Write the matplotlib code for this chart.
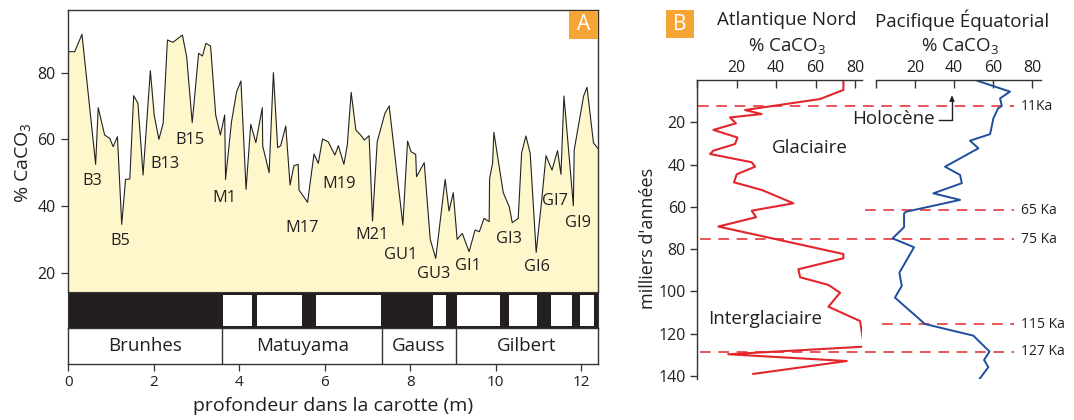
import matplotlib
matplotlib.use('Agg')
import matplotlib.pyplot as plt
from matplotlib.patches import Rectangle, FancyArrowPatch
from matplotlib.transforms import blended_transform_factory

plt.rcParams['font.family'] = ['Open Sans', 'DejaVu Sans']
plt.rcParams['mathtext.fontset'] = 'custom'
plt.rcParams['mathtext.rm'] = 'Open Sans'
plt.rcParams['mathtext.default'] = 'regular'

# ---- panel A : % CaCO3 vs depth in core
depth = [0, 0.15, 0.32, 0.64, 0.70, 0.85, 0.97, 1.05, 1.15, 1.25,
         1.34, 1.44, 1.53, 1.63, 1.75, 1.92, 2.01, 2.12, 2.22, 2.32,
         2.45, 2.67, 2.77, 2.90, 3.05, 3.14, 3.22, 3.33, 3.45, 3.56,
         3.66, 3.68, 3.82, 3.94, 4.04, 4.16, 4.27, 4.39, 4.54, 4.55,
         4.70, 4.80, 4.90, 4.97, 5.09, 5.19, 5.28, 5.38, 5.40, 5.60,
         5.75, 5.85, 5.95, 6.08, 6.24, 6.32, 6.45, 6.53, 6.62, 6.73,
         6.84, 6.93, 7.04, 7.12, 7.23, 7.41, 7.51, 7.83, 7.94, 8.02,
         8.13, 8.15, 8.33, 8.47, 8.60, 8.82, 8.91, 9.01, 9.10, 9.22,
         9.38, 9.52, 9.62, 9.73, 9.85, 9.86, 9.93, 9.96, 10.18, 10.32,
         10.39, 10.53, 10.61, 10.71, 10.81, 10.95, 11.08, 11.18, 11.32, 11.45,
         11.53, 11.60, 11.82, 11.84, 12.06, 12.14, 12.29, 12.39]
caco3 = [86.3, 86.3, 91.5, 52.5, 69.5, 61.3, 60.3, 57.8, 60.8, 34.5,
         48.0, 48.1, 73.1, 70.8, 49.3, 80.6, 67.3, 60.0, 64.8, 89.8,
         89.1, 91.3, 84.8, 65.0, 85.8, 85.0, 88.8, 88.0, 67.3, 61.3,
         67.3, 48.0, 65.3, 74.3, 77.5, 45.0, 64.5, 59.0, 69.5, 58.0,
         50.0, 80.0, 57.5, 58.1, 64.0, 46.3, 52.1, 52.5, 44.8, 41.1,
         55.6, 52.8, 60.1, 59.3, 55.3, 58.1, 52.5, 58.3, 74.1, 62.8,
         61.3, 59.8, 61.1, 35.5, 59.3, 67.8, 70.0, 34.3, 59.5, 56.3,
         55.5, 48.8, 53.0, 30.0, 24.3, 48.0, 38.5, 44.0, 30.0, 31.8,
         26.3, 32.8, 32.3, 36.3, 35.3, 48.3, 52.8, 62.1, 44.0, 39.8,
         35.0, 36.3, 56.0, 61.0, 55.8, 26.1, 41.8, 55.1, 50.8, 56.6,
         49.5, 73.0, 40.1, 56.8, 73.0, 75.6, 59.0, 57.3]

stage_names = ['B3', 'B5', 'B13', 'B15', 'M1', 'M17', 'M19', 'M21',
               'GU1', 'GU3', 'GI1', 'GI3', 'GI6', 'GI7', 'GI9']
stage_x = [0.57, 1.21, 2.26, 2.85, 3.65, 5.48, 6.34, 7.12,
           7.79, 8.54, 9.36, 10.32, 10.97, 11.39, 11.92]
stage_y = [47.5, 29.6, 52.6, 59.8, 42.3, 33.5, 46.6, 31.3,
           25.3, 19.6, 22.1, 30.0, 21.8, 41.5, 34.8]

# reversed polarity intervals (white boxes), depth in m
reversed_start = [3.63, 4.42, 5.80, 8.54, 9.10, 10.32, 11.30, 11.98]
reversed_end = [4.30, 5.48, 7.32, 8.83, 10.11, 10.98, 11.78, 12.31]

epoch_names = ['Brunhes', 'Matuyama', 'Gauss', 'Gilbert']
epoch_bounds = [0, 3.60, 7.35, 9.07, 12.39]

# ---- panel B : last 140 ka
atl_age = [0, 4.7, 9.0, 14.2, 16.1, 17.7, 20.5, 23.6, 27.2, 30.3,
           33.4, 35.0, 38.9, 41.0, 44.6, 48.4, 52.0, 58.3, 61.8, 64.9,
           69.3, 82.3, 84.3, 89.5, 93.3, 96.9, 100.6, 107.2, 114.0, 126.1,
           129.7, 132.9, 139.0]
atl_caco3 = [74.1, 74.1, 62.3, 24.3, 32.7, 16.7, 19.7, 8.3, 20.5, 19.2,
             8.3, 6.6, 27.7, 29.4, 20.1, 18.7, 32.8, 48.8, 27.7, 29.9,
             10.8, 74.1, 74.1, 51.3, 52.2, 66.5, 72.4, 66.5, 82.5, 84.6,
             15.8, 75.8, 28.5]
pac_age = [0, 5.5, 8.7, 12.3, 13.4, 18.1, 25.6, 28.7, 32.3, 41.0,
           44.9, 48.8, 53.6, 56.7, 62.3, 63.0, 69.6, 74.9, 79.1, 91.1,
           97.4, 102.9, 115.4, 120.9, 128.4, 132.4, 135.8, 141.5]
pac_caco3 = [50.8, 68.7, 63.6, 64.5, 62.6, 60.2, 58.5, 48.2, 52.5, 35.4,
             43.1, 44.0, 29.4, 43.1, 15.4, 14.4, 14.4, 8.5, 19.5, 12.0,
             13.2, 9.7, 25.1, 49.9, 58.2, 55.4, 57.6, 53.0]

ka_labels = ['11Ka', '65 Ka', '75 Ka', '115 Ka', '127 Ka']
ka_pos = [12.3, 61.5, 75.2, 115.4, 128.6]

W, H = 1074, 420
fig = plt.figure(figsize=(W / 100, H / 100), dpi=100)
def px(x0, y0, x1, y1):
    return [x0 / W, 1 - y1 / H, (x1 - x0) / W, (y1 - y0) / H]

edge = '#333333'
txt = '#231f20'
red = '#e3262b'
blue = '#1e4e9c'
orange = '#f6a436'

# curve
axA = fig.add_axes(px(68.3, 10, 597.7, 291.7))
axA.fill_between(depth, caco3, 0, color='#fff7cc', lw=0)
axA.plot(depth, caco3, color='#222222', lw=0.8)
axA.set_xlim(0, 12.39)
axA.set_ylim(14.3, 98.8)
axA.set_xticks([])
axA.set_yticks([20, 40, 60, 80])
axA.tick_params(axis='y', direction='out', length=5, width=0.9, colors=edge,
                labelcolor=txt, labelsize=11.5, pad=4)
for s in ['left', 'top', 'right']:
    axA.spines[s].set_color(edge)
    axA.spines[s].set_linewidth(1.0)
axA.spines['bottom'].set_visible(False)
axA.set_ylabel('% CaCO$_3$', fontsize=14, color=txt)
axA.yaxis.set_label_coords(-0.066, 0.46)
for name, x, y in zip(stage_names, stage_x, stage_y):
    axA.text(x, y, name, ha='center', va='center', fontsize=11.8, color=txt)

# polarity bar
axP = fig.add_axes(px(68.3, 291.7, 597.7, 327.7))
axP.set_facecolor('#231f20')
for a, b in zip(reversed_start, reversed_end):
    axP.add_patch(Rectangle((a, 0.04), b - a, 0.88, facecolor='white', lw=0))
axP.set_xlim(0, 12.39)
axP.set_ylim(0, 1)
axP.set_xticks([])
axP.set_yticks([])
for s in axP.spines.values():
    s.set_color(edge)

# epochs
axE = fig.add_axes(px(68.3, 327.7, 597.7, 364))
axE.set_xlim(0, 12.39)
axE.set_ylim(0, 1)
for b in epoch_bounds[1:-1]:
    axE.axvline(b, color=edge, lw=1.0)
for name, a, b in zip(epoch_names, epoch_bounds[:-1], epoch_bounds[1:]):
    axE.text((a + b) / 2, 0.5, name, ha='center', va='center', fontsize=13.5, color=txt)
axE.set_yticks([])
axE.set_xticks(range(0, 13, 2))
axE.tick_params(axis='x', direction='out', length=5, width=0.9, colors=edge,
                labelcolor=txt, labelsize=11, pad=3)
for s in axE.spines.values():
    s.set_color(edge)
    s.set_linewidth(1.0)
axE.set_xlabel('profondeur dans la carotte (m)', fontsize=14, color=txt, labelpad=5)

fig.patches.append(Rectangle((569.3 / W, 1 - 39.3 / H), 28.4 / W, 28.3 / H,
                             transform=fig.transFigure, facecolor=orange, lw=0))
fig.text(583.5 / W, 1 - 25 / H, 'A', ha='center', va='center', color='white', fontsize=15)

# ---- panel B
axL = fig.add_axes(px(697, 80, 862, 379))
axR = fig.add_axes(px(876, 80, 1041, 379))
axL.plot(atl_caco3, atl_age, color=red, lw=1.5)
axR.plot(pac_caco3, pac_age, color=blue, lw=1.4)
for ax, xmax in [(axL, 83.5), (axR, 84.6)]:
    ax.set_xlim(0, xmax)
    ax.set_ylim(141.4, 0)
    ax.patch.set_alpha(0)
    ax.xaxis.tick_top()
    ax.set_xticks([0, 20, 40, 60, 80])
    ax.set_xticklabels(['', '20', '40', '60', '80'])
    ax.tick_params(axis='x', direction='in', length=6, width=1.0, colors=edge,
                   labelcolor=txt, labelsize=11.5, pad=3)
    ax.spines['bottom'].set_visible(False)
    ax.spines['right'].set_visible(False)
    ax.spines['top'].set_color(edge)
    ax.spines['top'].set_linewidth(1.0)
axL.spines['left'].set_color(edge)
axL.spines['left'].set_linewidth(1.0)
axL.set_yticks(range(20, 141, 20))
axL.tick_params(axis='y', direction='out', length=5, width=1.0, colors=edge,
                labelcolor=txt, labelsize=11.5, pad=3)
axL.set_ylabel("milliers d'années", fontsize=13, color=txt)
axL.yaxis.set_label_coords(-0.245, 0.47)
axR.spines['left'].set_visible(False)
axR.set_yticks([])

# dashed age markers
tr = blended_transform_factory(fig.transFigure, axL.transData)
dash_start = [698, 865, 700, 882, 700]
for lab, y, x0 in zip(ka_labels, ka_pos, dash_start):
    axL.plot([x0 / W, 1014 / W], [y, y], transform=tr, color=red, lw=1.1,
             dashes=(7, 5), clip_on=False)
    axL.text(1021 / W, y, lab, transform=tr, ha='left', va='center',
             fontsize=10, color=txt, clip_on=False)

fig.text(787 / W, 1 - 20 / H, 'Atlantique Nord', ha='center', va='center', fontsize=13.5, color=txt)
fig.text(787 / W, 1 - 46 / H, '% CaCO$_3$', ha='center', va='center', fontsize=13.5, color=txt)
fig.text(962 / W, 1 - 20 / H, 'Pacifique Équatorial', ha='center', va='center', fontsize=13.5, color=txt)
fig.text(960 / W, 1 - 46 / H, '% CaCO$_3$', ha='center', va='center', fontsize=13.5, color=txt)

fig.text(893 / W, 1 - 119 / H, 'Holocène', ha='center', va='center', fontsize=13.5, color=txt)
fig.add_artist(plt.Line2D([939 / W, 952 / W, 952 / W], [1 - 120 / H, 1 - 120 / H, 1 - 100 / H],
                          transform=fig.transFigure, color=txt, lw=1.0))
fig.add_artist(FancyArrowPatch((952 / W, 1 - 101 / H), (952 / W, 1 - 93 / H),
                               transform=fig.transFigure, arrowstyle='-|>',
                               mutation_scale=7, color=txt, lw=1.0))
fig.text(810 / W, 1 - 148 / H, 'Glaciaire', ha='center', va='center', fontsize=13.5, color=txt)
fig.text(765 / W, 1 - 319 / H, 'Interglaciaire', ha='center', va='center', fontsize=13.5, color=txt)

fig.patches.append(Rectangle((666 / W, 1 - 38 / H), 28 / W, 28 / H,
                             transform=fig.transFigure, facecolor=orange, lw=0))
fig.text(680 / W, 1 - 24.5 / H, 'B', ha='center', va='center', color='white', fontsize=15)

fig.savefig('out.png', dpi=100)
